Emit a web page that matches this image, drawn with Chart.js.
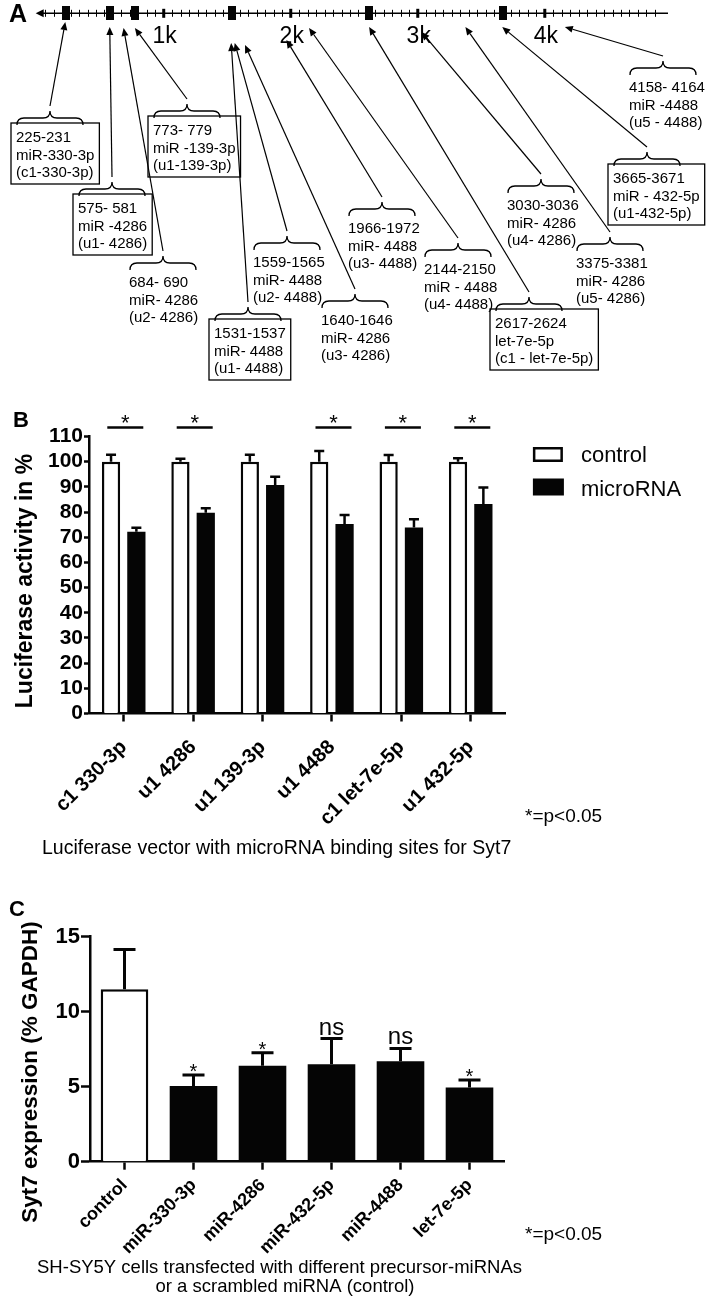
<!DOCTYPE html>
<html><head><meta charset="utf-8">
<script src="https://cdn.jsdelivr.net/npm/chart.js@4.4.1/dist/chart.umd.min.js"></script>
<style>
html,body{margin:0;padding:0;background:#fff;}
body{width:709px;height:1298px;position:relative;overflow:hidden;}
canvas{position:absolute;left:0;}
</style></head><body>
<canvas id="ca" width="709" height="390" style="top:0px"></canvas>
<canvas id="cb" width="709" height="490" style="top:380px"></canvas>
<canvas id="cc" width="709" height="428" style="top:870px"></canvas>
<script>
// ---------------- DATA ----------------
// Panel A: predicted binding sites in the Syt7 3'UTR (bp)
const siteStarts = [225, 575, 684, 773, 1531, 1559, 1640, 1966, 2144, 2617, 3030, 3375, 3665, 4158];
const siteRanges = ['225-231','575- 581','684- 690','773- 779','1531-1537','1559-1565','1640-1646','1966-1972','2144-2150','2617-2624','3030-3036','3375-3381','3665-3671','4158- 4164'];
const siteMirnas = ['miR-330-3p','miR -4286','miR- 4286','miR -139-3p','miR- 4488','miR- 4488','miR- 4286','miR- 4488','miR - 4488','let-7e-5p','miR- 4286','miR- 4286','miR - 432-5p','miR -4488'];
const siteIds = ['(c1-330-3p)','(u1- 4286)','(u2- 4286)','(u1-139-3p)','(u1- 4488)','(u2- 4488)','(u3- 4286)','(u3- 4488)','(u4- 4488)','(c1 - let-7e-5p)','(u4- 4286)','(u5- 4286)','(u1-432-5p)','(u5 - 4488)'];
const siteTested = [true,true,false,true,true,false,false,false,false,true,false,false,true,false];
const kbTickLabels = ['1k','2k','3k','4k'];
const kbTickValues = [1000,2000,3000,4000];
const axisMaxBp = 4970;
const minorTickStep = 1000/15;

// Panel B: luciferase activity (%)
const bCategories = ['c1 330-3p','u1 4286','u1 139-3p','u1 4488','c1 let-7e-5p','u1 432-5p'];
const bControl = [100,100,100,100,100,100];
const bControlErr = [2.8,1.2,2.8,4.2,2.7,1.4];
const bMicroRNA = [72.2,79.7,90.7,75.3,73.9,83.2];
const bMicroRNAErr = [1.6,1.8,3.3,3.5,3.2,6.5];
const bSignificant = [true,true,false,true,true,true];
const bSeriesNames = ['control','microRNA'];
const bYTicks = {min:0, max:110, step:10};

// Panel C: Syt7 expression (% GAPDH)
const cCategories = ['control','miR-330-3p','miR-4286','miR-432-5p','miR-4488','let-7e-5p'];
const cValues = [11.5,5.05,6.4,6.5,6.7,4.95];
const cErrors = [2.65,0.73,0.87,1.71,0.85,0.49];
const cSignif = ['','*','*','ns','ns','*'];
const cYTicks = {min:0, max:15, step:5};

// ---------------- LAYOUT (positions only) ----------------
const FF = '"Liberation Sans", Arial, sans-serif';
Chart.defaults.font.family = FF;
Chart.defaults.color = '#000';
const BLACK = '#050505';
const A_AXIS_Y = 13.3;
const A_LH = 17.5;
// [text left, first baseline, arrow tip y]
const annLayout = [[16,142,22],[78,213,27],[129,287,28],[153,135,28],[214,338,43],[253,267,43],[321,325,45],[348,233,40],[424,274,28],[495,328,27],[507,210,32],[576,268,27],[613,183,27],[629,92,27]];

function drawBrace(ctx, x1, x2, yTip, h){
  const mid=(x1+x2)/2, yF=yTip+h/2, r=h/2;
  ctx.beginPath();
  ctx.moveTo(x1, yTip+h);
  ctx.quadraticCurveTo(x1, yF, x1+r, yF);
  ctx.lineTo(mid-r, yF);
  ctx.quadraticCurveTo(mid, yF, mid, yTip);
  ctx.quadraticCurveTo(mid, yF, mid+r, yF);
  ctx.lineTo(x2-r, yF);
  ctx.quadraticCurveTo(x2, yF, x2, yTip+h);
  ctx.stroke();
}
function drawArrow(ctx, x1, y1, x2, y2){
  const a=Math.atan2(y2-y1, x2-x1), L=8, W=3.5;
  const bx=x2-L*Math.cos(a), by=y2-L*Math.sin(a);
  ctx.beginPath(); ctx.moveTo(x1,y1); ctx.lineTo(bx,by); ctx.stroke();
  ctx.beginPath(); ctx.moveTo(x2,y2);
  ctx.lineTo(bx+W*Math.sin(a), by-W*Math.cos(a));
  ctx.lineTo(bx-W*Math.sin(a), by+W*Math.cos(a));
  ctx.closePath(); ctx.fill();
}

// ---------------- PANEL A ----------------
const boxMark = document.createElement('canvas');
boxMark.width=8; boxMark.height=14;
(function(){const c=boxMark.getContext('2d'); c.fillStyle=BLACK; c.fillRect(0,0,8,14);})();

const panelAPlugin = {
  id:'panelA',
  beforeDatasetsDraw(chart){
    const {ctx, scales:{x}} = chart;
    const y0=A_AXIS_Y;
    ctx.save();
    ctx.strokeStyle='#000'; ctx.fillStyle='#000';
    const xs=x.getPixelForValue(0), xe=x.getPixelForValue(axisMaxBp);
    ctx.lineWidth=1.4;
    ctx.beginPath(); ctx.moveTo(xs+4,y0); ctx.lineTo(xe,y0); ctx.stroke();
    ctx.beginPath(); ctx.moveTo(xs-1,y0); ctx.lineTo(xs+7,y0-4); ctx.lineTo(xs+7,y0+4); ctx.closePath(); ctx.fill();
    ctx.lineWidth=1;
    for(let bp=minorTickStep; bp<axisMaxBp-100; bp+=minorTickStep){
      const px=Math.round(x.getPixelForValue(bp))+0.5;
      ctx.beginPath(); ctx.moveTo(px,y0-3.5); ctx.lineTo(px,y0+3.5); ctx.stroke();
    }
    ctx.font='23px '+FF; ctx.textAlign='center'; ctx.textBaseline='alphabetic';
    kbTickValues.forEach((v,i)=>{
      const px=x.getPixelForValue(v);
      ctx.fillRect(px-1.5,y0-4.5,3,9);
      ctx.fillText(kbTickLabels[i], px+1, 43);
    });
    ctx.restore();
  },
  afterDatasetsDraw(chart){
    const {ctx, scales:{x}} = chart;
    ctx.save();
    ctx.fillStyle='#000'; ctx.strokeStyle='#000';
    ctx.textAlign='left'; ctx.textBaseline='alphabetic';
    siteStarts.forEach((bp,i)=>{
      const [tl,b1,tipY]=annLayout[i];
      const lines=[siteRanges[i], siteMirnas[i], siteIds[i]];
      ctx.font='15px '+FF;
      lines.forEach((t,k)=>ctx.fillText(t, tl, b1+k*A_LH));
      const braceTip=b1-31;
      ctx.lineWidth=1.3;
      drawBrace(ctx, tl+1, tl+67, braceTip, 14);
      if(siteTested[i]){
        const w=Math.max(...lines.map(t=>ctx.measureText(t).width));
        ctx.lineWidth=1.3;
        ctx.strokeRect(tl-5, b1-19, w+10, 61);
      }
      ctx.lineWidth=1.2;
      drawArrow(ctx, tl+34, braceTip-5, x.getPixelForValue(bp), tipY);
    });
    ctx.font='bold 25px '+FF;
    ctx.fillText('A', 9, 21.5);
    ctx.restore();
  }
};

new Chart(document.getElementById('ca'), {
  type:'scatter',
  data:{datasets:[{
    data: siteStarts.filter((s,i)=>siteTested[i]).map(s=>({x:s+3, y:A_AXIS_Y})),
    pointStyle: boxMark, pointRadius:7
  }]},
  options:{
    responsive:false, animation:false, devicePixelRatio:1,
    layout:{autoPadding:false, padding:{left:36.7, right:41, top:0, bottom:0}},
    plugins:{legend:{display:false}, tooltip:{enabled:false}},
    scales:{
      x:{type:'linear', min:0, max:axisMaxBp, display:false},
      y:{type:'linear', min:0, max:390, reverse:true, display:false}
    }
  },
  plugins:[panelAPlugin]
});

// ---------------- common helpers ----------------
function rotTitle(ctx, text, cx, cy, font){
  ctx.save(); ctx.translate(cx,cy); ctx.rotate(-Math.PI/2);
  ctx.font=font; ctx.textAlign='center'; ctx.textBaseline='middle'; ctx.fillStyle='#000';
  ctx.fillText(text,0,0); ctx.restore();
}
function plainText(ctx, text, x, y, font, align){
  ctx.save(); ctx.font=font; ctx.textAlign=align||'left'; ctx.textBaseline='alphabetic'; ctx.fillStyle='#000';
  ctx.fillText(text,x,y); ctx.restore();
}

// ---------------- PANEL B ----------------
const B_TOP = 380;
const panelBPlugin = {
  id:'panelB',
  afterDatasetsDraw(chart){
    const {ctx, scales:{y}, chartArea} = chart;
    ctx.save();
    ctx.strokeStyle=BLACK; ctx.fillStyle=BLACK; ctx.lineWidth=2.5; ctx.lineCap='butt';
    chart.data.datasets.forEach((ds,i)=>{
      chart.getDatasetMeta(i).data.forEach((bar,j)=>{
        const yt=y.getPixelForValue(ds.data[j]), ye=y.getPixelForValue(ds.data[j]+ds.err[j]);
        ctx.beginPath(); ctx.moveTo(bar.x,yt); ctx.lineTo(bar.x,ye);
        ctx.moveTo(bar.x-5,ye); ctx.lineTo(bar.x+5,ye); ctx.stroke();
      });
    });
    const m0=chart.getDatasetMeta(0).data, m1=chart.getDatasetMeta(1).data;
    const ly=y.getPixelForValue(113.6);
    bSignificant.forEach((s,j)=>{
      if(!s) return;
      const c=(m0[j].x+m1[j].x)/2+1.6;
      ctx.beginPath(); ctx.moveTo(c-18,ly); ctx.lineTo(c+18,ly); ctx.stroke();
      ctx.font='22px '+FF; ctx.textAlign='center'; ctx.textBaseline='alphabetic';
      ctx.fillText('*', c, ly+3);
    });
    // legend
    const lx=chartArea.right+27.5, ly0=chartArea.top+10.5;
    ctx.lineWidth=2.5;
    ctx.fillStyle='#fff'; ctx.fillRect(lx,ly0,30,15);
    ctx.strokeStyle=BLACK; ctx.strokeRect(lx+1.25,ly0+1.25,27.5,12.5);
    ctx.fillStyle=BLACK; ctx.fillRect(lx,ly0+31.5,31,17);
    ctx.font='22px '+FF; ctx.textAlign='left'; ctx.textBaseline='alphabetic';
    ctx.fillText(bSeriesNames[0], lx+48, ly0+15);
    ctx.fillText(bSeriesNames[1], lx+48, ly0+48.5);
    ctx.restore();
    rotTitle(ctx, 'Luciferase activity in %', 26, 581-B_TOP, 'bold 23px '+FF);
    plainText(ctx, 'B', 13, 427-B_TOP, 'bold 22px '+FF);
    plainText(ctx, '*=p<0.05', 525, 822-B_TOP, '19px '+FF);
    plainText(ctx, 'Luciferase vector with microRNA binding sites for Syt7', 42, 854-B_TOP, '19.5px '+FF);
  }
};

new Chart(document.getElementById('cb'), {
  type:'bar',
  data:{labels:bCategories, datasets:[
    {label:bSeriesNames[0], data:bControl, err:bControlErr, backgroundColor:'#fff', borderColor:BLACK, borderWidth:2.5,
     categoryPercentage:0.73, barPercentage:0.72},
    {label:bSeriesNames[1], data:bMicroRNA, err:bMicroRNAErr, backgroundColor:BLACK, borderColor:BLACK, borderWidth:0,
     categoryPercentage:0.73, barPercentage:0.72}
  ]},
  options:{
    responsive:false, animation:false, devicePixelRatio:1,
    layout:{padding:{top:56.5, right:203.6, left:0, bottom:0}},
    plugins:{legend:{display:false}, tooltip:{enabled:false}},
    scales:{
      x:{grid:{drawOnChartArea:false, offset:false, tickLength:8, tickWidth:2.5, tickColor:BLACK},
         border:{color:BLACK, width:2.5},
         ticks:{font:{size:20, weight:'bold'}, color:'#000', minRotation:45, maxRotation:45, autoSkip:false, padding:14},
         afterFit(s){s.height=156.5;}},
      y:{min:bYTicks.min, max:bYTicks.max,
         ticks:{stepSize:bYTicks.step, autoSkip:false, font:{size:21, weight:'bold'}, color:'#000', padding:1},
         grid:{drawOnChartArea:false, tickLength:5, tickWidth:2.5, tickColor:BLACK},
         border:{color:BLACK, width:2.5},
         afterFit(s){s.width=89;}}
    }
  },
  plugins:[panelBPlugin]
});

// ---------------- PANEL C ----------------
const C_TOP = 870;
const panelCPlugin = {
  id:'panelC',
  afterDatasetsDraw(chart){
    const {ctx, scales:{y}} = chart;
    const ds=chart.data.datasets[0];
    ctx.save();
    ctx.strokeStyle=BLACK; ctx.fillStyle=BLACK; ctx.lineWidth=3;
    chart.getDatasetMeta(0).data.forEach((bar,j)=>{
      const yt=y.getPixelForValue(ds.data[j]), ye=y.getPixelForValue(ds.data[j]+cErrors[j]);
      ctx.beginPath(); ctx.moveTo(bar.x,yt); ctx.lineTo(bar.x,ye);
      ctx.moveTo(bar.x-11,ye); ctx.lineTo(bar.x+11,ye); ctx.stroke();
      ctx.textAlign='center'; ctx.textBaseline='alphabetic';
      if(cSignif[j]==='*'){ ctx.font='20px '+FF; ctx.fillText('*', bar.x, ye+3); }
      else if(cSignif[j]){ ctx.font='24px '+FF; ctx.fillText(cSignif[j], bar.x, ye-4); }
    });
    ctx.restore();
    rotTitle(ctx, 'Syt7 expression (% GAPDH)', 31, 1072-C_TOP, 'bold 22.5px '+FF);
    plainText(ctx, 'C', 9, 916-C_TOP, 'bold 22px '+FF);
    plainText(ctx, '*=p<0.05', 525, 1240-C_TOP, '19px '+FF);
    plainText(ctx, 'SH-SY5Y cells transfected with different precursor-miRNAs', 279.5, 1273-C_TOP, '18.5px '+FF, 'center');
    plainText(ctx, 'or a scrambled miRNA (control)', 285, 1292-C_TOP, '18.5px '+FF, 'center');
  }
};

new Chart(document.getElementById('cc'), {
  type:'bar',
  data:{labels:cCategories, datasets:[{
    data:cValues,
    backgroundColor: cCategories.map(c=>c==='control'?'#fff':BLACK),
    borderColor: BLACK,
    borderWidth: cCategories.map(c=>c==='control'?2.5:0),
    categoryPercentage:1, barPercentage:0.69
  }]},
  options:{
    responsive:false, animation:false, devicePixelRatio:1,
    layout:{padding:{top:66.7, right:205, left:0, bottom:0}},
    plugins:{legend:{display:false}, tooltip:{enabled:false}},
    scales:{
      x:{grid:{drawOnChartArea:false, offset:false, tickLength:8, tickWidth:2.5, tickColor:BLACK},
         border:{color:BLACK, width:2.5},
         ticks:{font:{size:18, weight:'bold'}, color:'#000', minRotation:45, maxRotation:45, autoSkip:false, padding:5},
         afterFit(s){s.height=136.3;}},
      y:{min:cYTicks.min, max:cYTicks.max,
         ticks:{stepSize:cYTicks.step, autoSkip:false, font:{size:22, weight:'bold'}, color:'#000', padding:1},
         grid:{drawOnChartArea:false, tickLength:9, tickWidth:2.5, tickColor:BLACK},
         border:{color:BLACK, width:2.5},
         afterFit(s){s.width=90;}}
    }
  },
  plugins:[panelCPlugin]
});
</script>
</body></html>
